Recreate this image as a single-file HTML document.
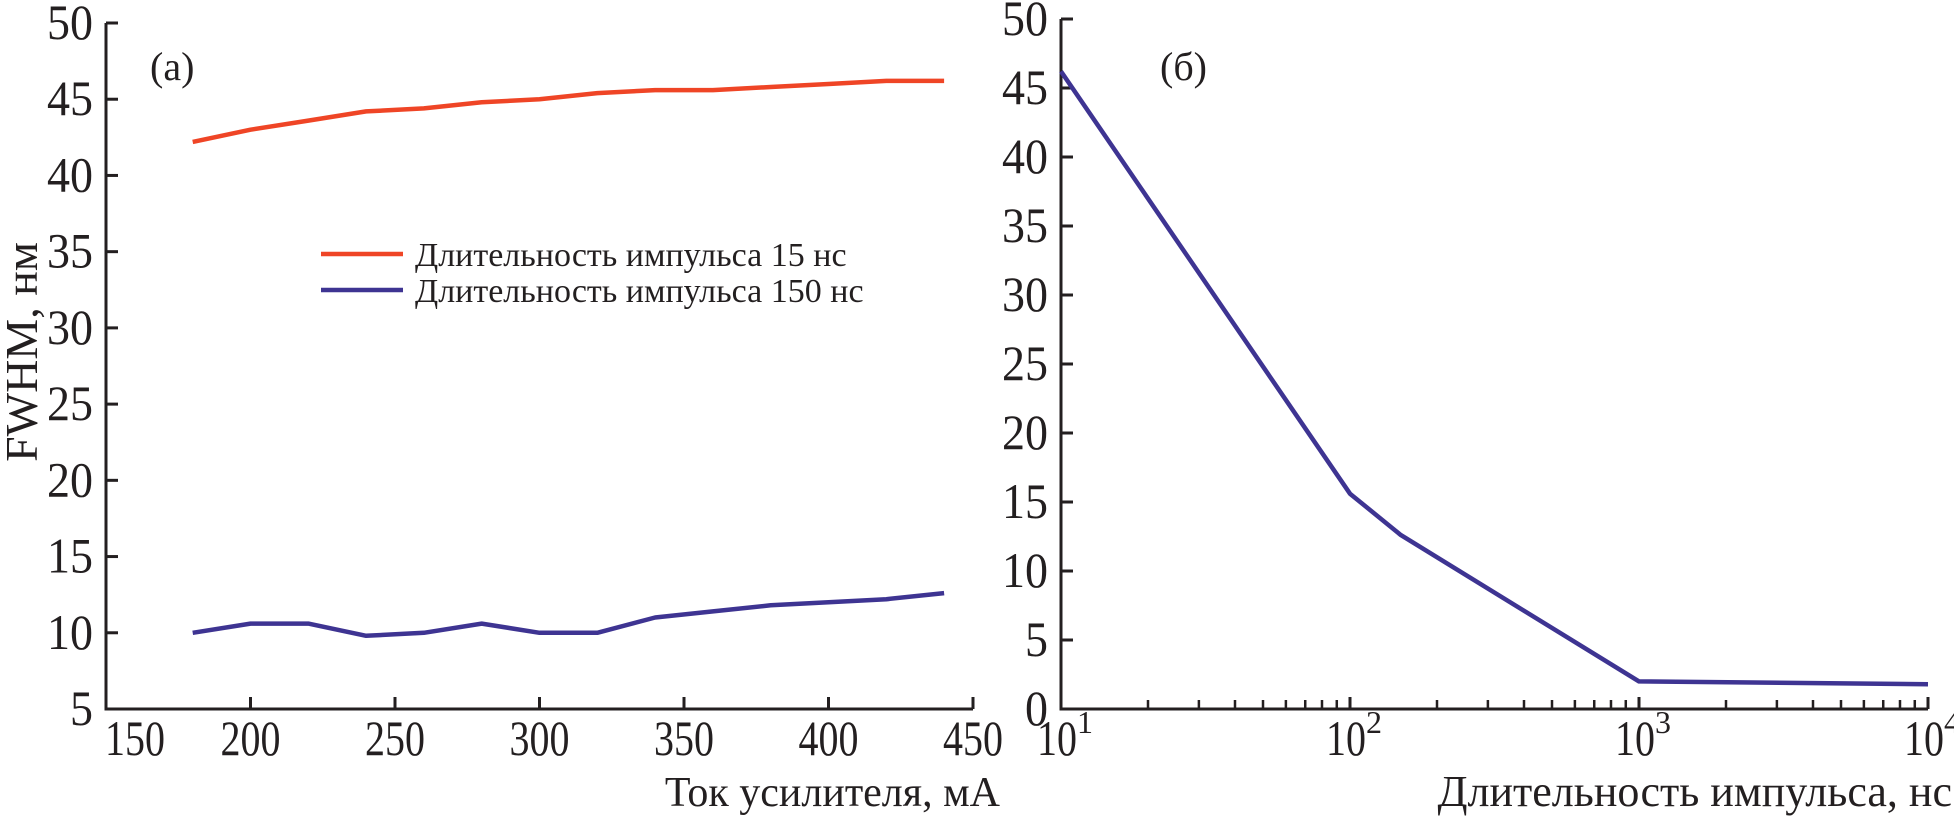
<!DOCTYPE html>
<html><head><meta charset="utf-8"><style>
body{margin:0;background:#fff;}
svg text{font-family:"Liberation Serif",serif;fill:#231f20;}
</style></head><body>
<svg id="c" width="1954" height="819" xmlns="http://www.w3.org/2000/svg"></svg>
<script>
const xA=[180,200,220,240,260,280,300,320,340,360,380,400,420,440];
const red15=[42.2,43,43.6,44.2,44.4,44.8,45,45.4,45.6,45.6,45.8,46,46.2,46.2];
const blue150=[10,10.6,10.6,9.8,10,10.6,10,10,11,11.4,11.8,12,12.2,12.6];
const xTicksA=[150,200,250,300,350,400,450];
const yTicksA=[5,10,15,20,25,30,35,40,45,50];
const xB=[10,100,150,1000,10000];
const yB=[46.2,15.6,12.6,2.0,1.8];
const yTicksB=[0,5,10,15,20,25,30,35,40,45,50];
const xDecB=[1,2,3,4];

const svg=document.getElementById('c');
const NS='http://www.w3.org/2000/svg';
function el(t,a,txt){const e=document.createElementNS(NS,t);for(const k in a)e.setAttribute(k,a[k]);if(txt!==undefined)e.textContent=txt;svg.appendChild(e);return e;}
const RED='#ef4526',BLUE='#3e3492';
const ax=v=>106+(v-150)*(973-106)/300;
const ay=v=>709-(v-5)*(709-23)/45;
const bx=v=>1061+(Math.log10(v)-1)*(1928-1061)/3;
const by=v=>709-v*(709-19)/50;

let e=el('path',{d:`M106 ${ay(50)} V709 H973`,fill:'none',stroke:'#231f20','stroke-width':3});


yTicksA.forEach(v=>{
 let t=el('line',{x1:106,x2:118,y1:ay(v),y2:ay(v),stroke:'#231f20','stroke-width':3});
 
 
 let l=el('text',{x:93,y:ay(v)+16,'text-anchor':'end','font-size':50,textLength:v<10?23:46,lengthAdjust:'spacingAndGlyphs'},String(v));
 
 
});
xTicksA.forEach(v=>{
 let t=el('line',{x1:ax(v),x2:ax(v),y1:709,y2:697,stroke:'#231f20','stroke-width':3});
 
 
 let cx=v===150?135:ax(v);
 let l=el('text',{x:cx,y:755,'text-anchor':'middle','font-size':50,textLength:60,lengthAdjust:'spacingAndGlyphs'},String(v));
 
 
});
function poly(xs,ys,fx,fy,col,name){
 let d=xs.map((x,i)=>(i?'L':'M')+fx(x).toFixed(1)+' '+fy(ys[i]).toFixed(1)).join(' ');
 let p=el('path',{d:d,fill:'none',stroke:col,'stroke-width':4.5,'stroke-linejoin':'round'});
 
 
}
poly(xA,red15,ax,ay,RED,'series-15ns');
poly(xA,blue150,ax,ay,BLUE,'series-150ns');
e=el('text',{x:150,y:80,'font-size':40},'(a)');


e=el('text',{x:1000,y:806,'text-anchor':'end','font-size':42},'Ток усилителя, мА');


e=el('text',{x:0,y:0,'text-anchor':'middle','font-size':46,transform:'translate(37,352) rotate(-90)'},'FWHM, нм');


e=el('line',{x1:321,x2:403,y1:254,y2:254,stroke:RED,'stroke-width':4.5});


e=el('text',{x:415,y:266,'font-size':34},'Длительность импульса 15 нс');


e=el('line',{x1:321,x2:403,y1:290,y2:290,stroke:BLUE,'stroke-width':4.5});


e=el('text',{x:415,y:302,'font-size':34},'Длительность импульса 150 нс');



e=el('path',{d:`M1061 ${by(50)} V709 H1928`,fill:'none',stroke:'#231f20','stroke-width':3});


yTicksB.forEach(v=>{
 let t=el('line',{x1:1061,x2:1073,y1:by(v),y2:by(v),stroke:'#231f20','stroke-width':3});
 
 
 let l=el('text',{x:1048,y:by(v)+16,'text-anchor':'end','font-size':50,textLength:v<10?23:46,lengthAdjust:'spacingAndGlyphs'},String(v));
 
 
});
for(let d=1;d<4;d++){for(let m=2;m<10;m++){
 let x=bx(m*Math.pow(10,d));
 let t=el('line',{x1:x,x2:x,y1:709,y2:700,stroke:'#231f20','stroke-width':2.5});
 
 
}}
xDecB.forEach(p=>{
 let x=bx(Math.pow(10,p));
 let t=el('line',{x1:x,x2:x,y1:709,y2:697,stroke:'#231f20','stroke-width':3});
 
 
 let g=el('text',{x:x-24,y:755,'font-size':50,textLength:40,lengthAdjust:'spacingAndGlyphs'},'10');
 
 
 let s=el('text',{x:x+16,y:733,'font-size':32},String(p));
 
 
});
poly(xB,yB,bx,by,BLUE,'series-pulse-duration');
e=el('text',{x:1160,y:80,'font-size':40},'(б)');


e=el('text',{x:1952,y:806,'text-anchor':'end','font-size':44},'Длительность импульса, нс');


</script>
</body></html>
